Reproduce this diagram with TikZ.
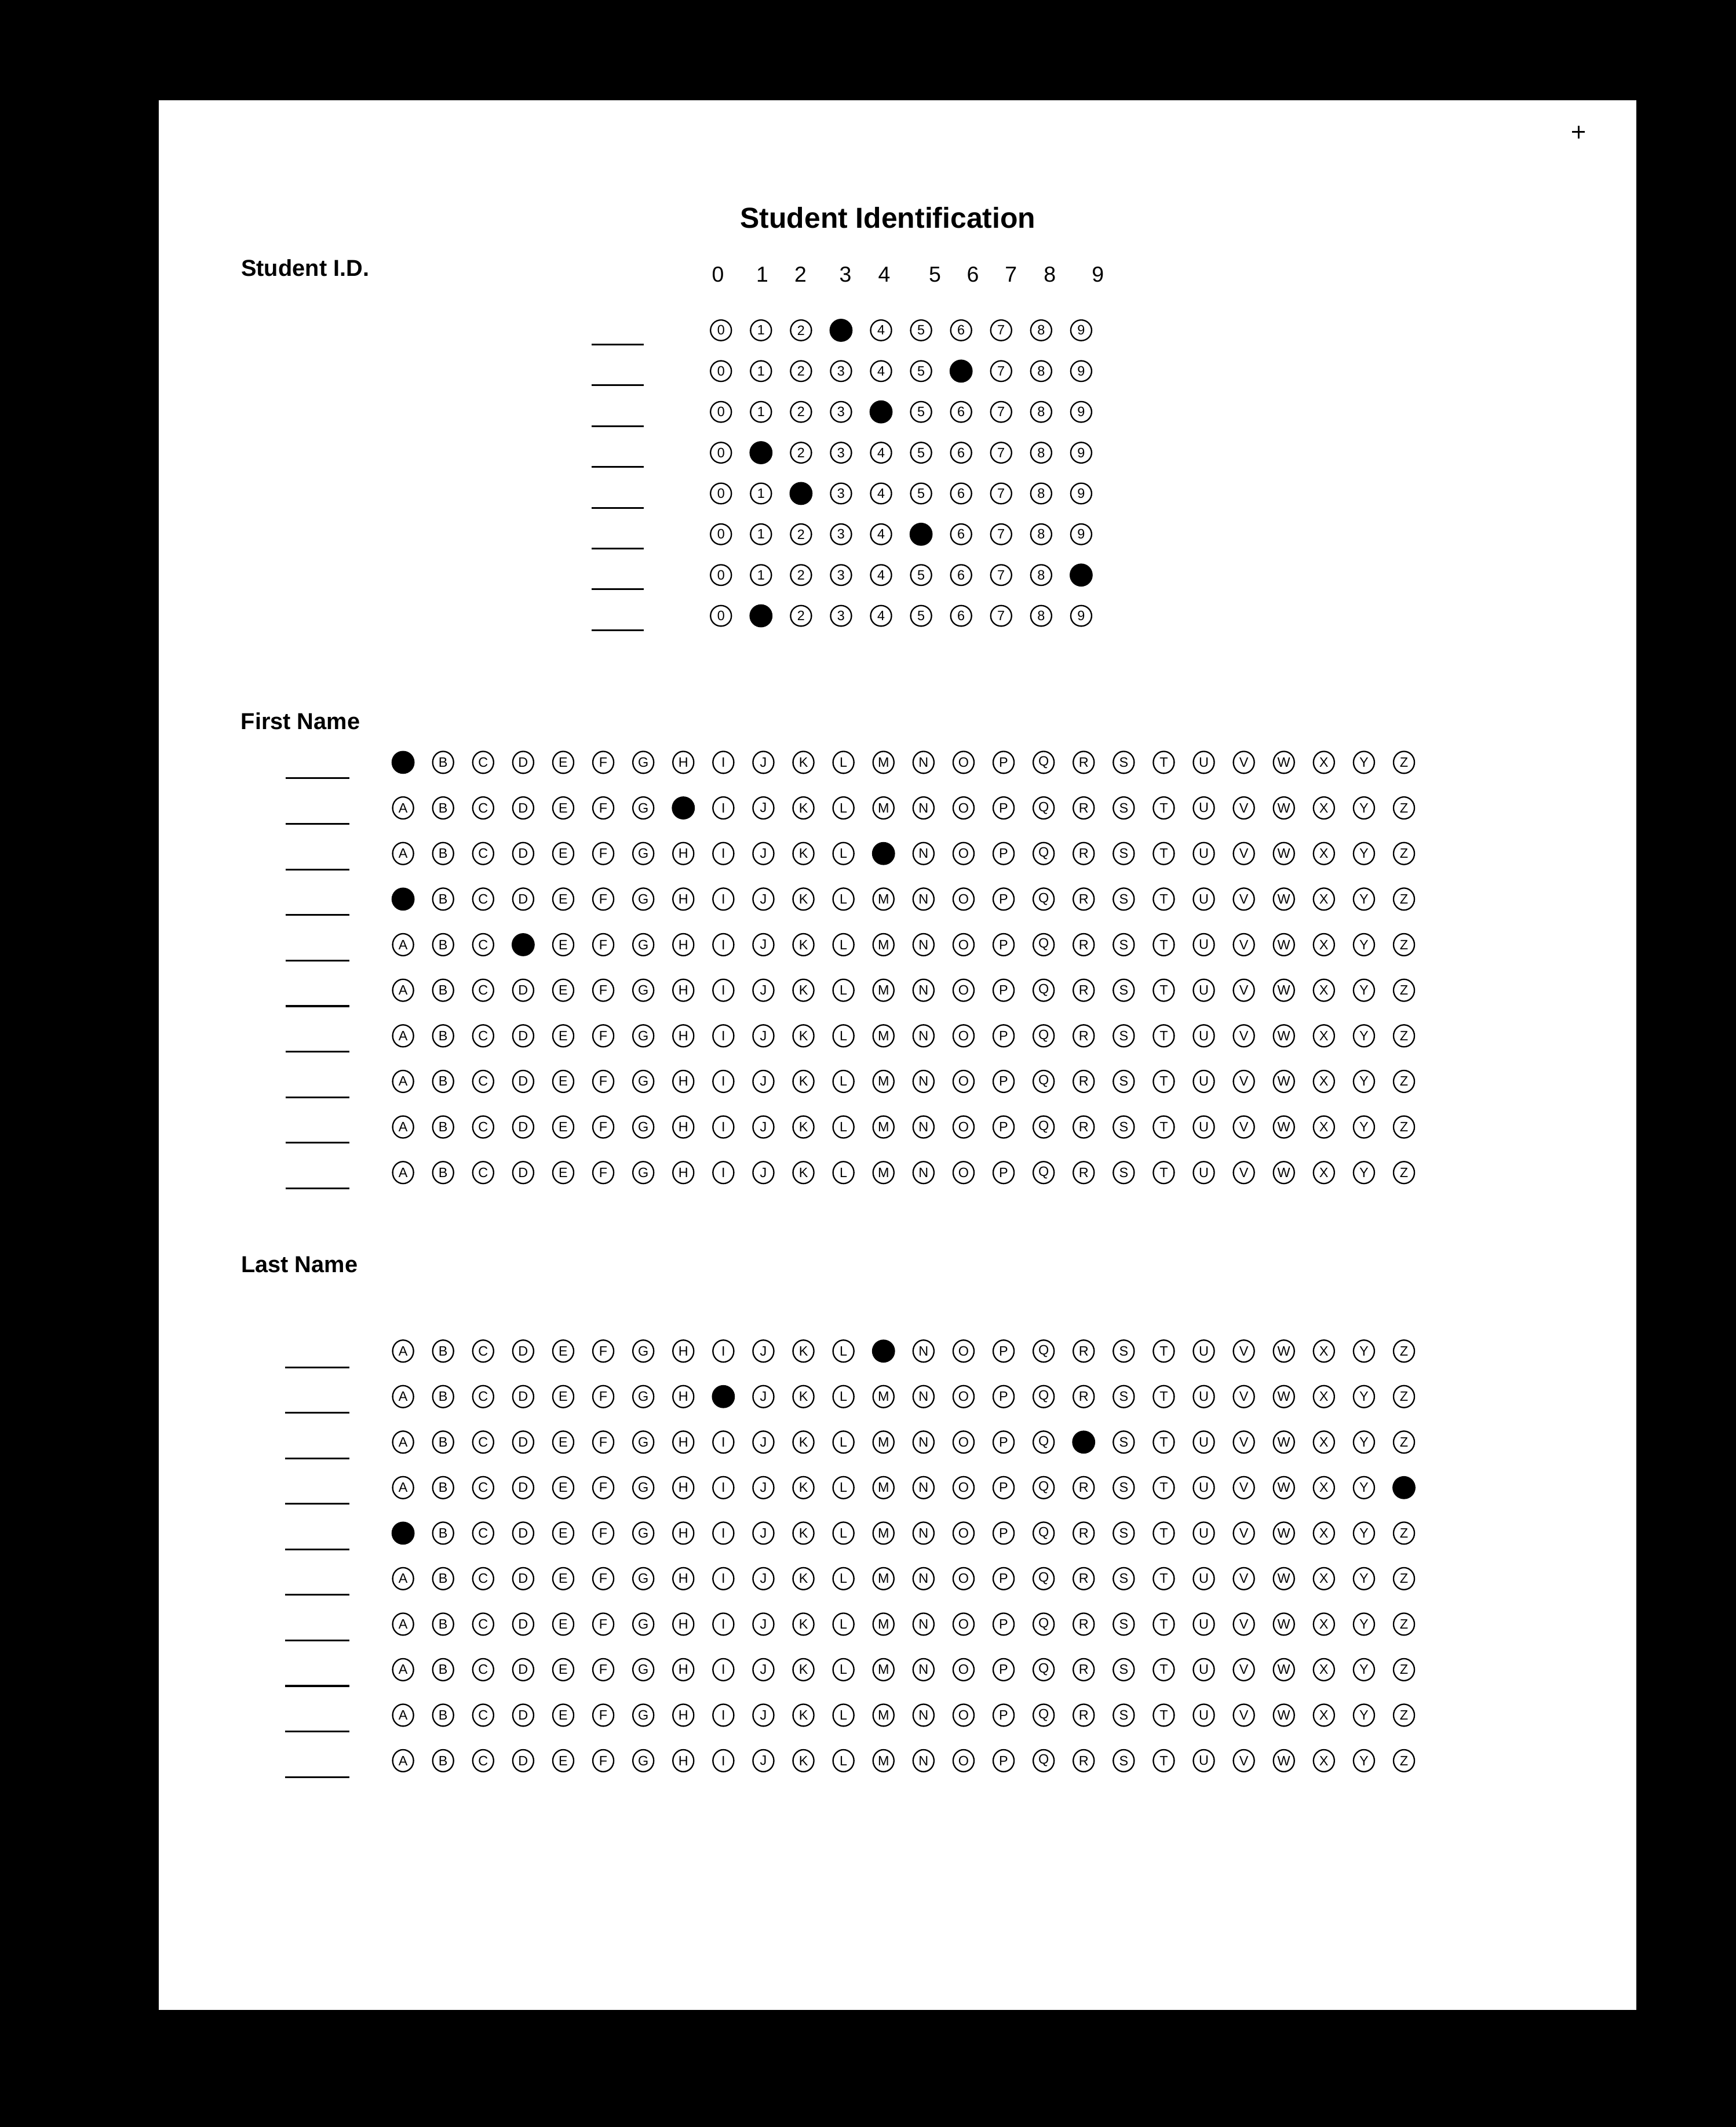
\documentclass[tikz,border=0pt]{standalone}
\usepackage{fontspec}
\setmainfont{Liberation Sans}
\usetikzlibrary{shapes.geometric}

\begin{document}
\begin{tikzpicture}[x=1pt,y=-1pt,
    bubble/.style={ellipse,draw,line width=1pt,inner sep=0pt,minimum width=15.4pt,minimum height=16.2pt,font=\fontsize{10}{10}\selectfont},
    id bubble/.style={bubble,minimum height=15.2pt},
    marked/.style={circle,fill=black,inner sep=0pt,minimum size=17pt},
    heading/.style={anchor=base west,inner sep=0pt,font=\fontsize{17}{18}\selectfont\bfseries},
    blank/.style={line width=1.3pt}]
  \useasboundingbox (0,0) rectangle (1280,1568);
  \fill[black] (0,0) rectangle (1280,1568);
  \fill[white] (117,74) rectangle (1206.5,1481.5);
  \draw[line width=1.3pt] (1159.3,97.4) -- (1168.7,97.4) (1164,92.7) -- (1164,102.1);

  \node[anchor=base,font=\fontsize{21.3}{24}\selectfont\bfseries] (title) at (654.7,168.2) {Student Identification};
  \node[heading] (idlabel) at (177.6,203.4) {Student I.D.};
  \node[heading] (firstlabel) at (177.4,537.5) {First Name};
  \node[heading] (lastlabel) at (177.6,937.9) {Last Name};

  % digit heads
  \foreach \k/\x in {0/529.4,1/562.1,2/590.2,3/623.4,4/652.0,5/689.4,6/717.4,7/745.5,8/774.1,9/809.5}
    \node[anchor=base,font=\fontsize{16}{18}\selectfont] (head-\k) at (\x,207.9) {\k};

  % student id
  \foreach \r/\p in {1/3,2/6,3/4,4/1,5/2,6/5,7/9,8/1}{
    \draw[blank] (436.3,{243.5+30.07*(\r-1)+10.5}) -- (474.6,{243.5+30.07*(\r-1)+10.5});
    \foreach \k in {0,...,9}{
      \ifnum\k=\p
        \node[marked] (id-\r-\k) at ({531.6+29.51*\k},{243.5+30.07*(\r-1)}) {};
      \else
        \node[id bubble] (id-\r-\k) at ({531.6+29.51*\k},{243.5+30.07*(\r-1)}) {\k};
      \fi
    }
  }

  % first name
  \foreach \r/\p in {1/1,2/8,3/13,4/1,5/4,6/0,7/0,8/0,9/0,10/0}{
    \draw[blank] (210.5,{562+33.6*(\r-1)+11.7}) -- (257.7,{562+33.6*(\r-1)+11.7});
    \foreach \c [count=\i] in {A,...,Z}{
      \ifnum\i=\p
        \node[marked] (first-\r-\c) at ({297.2+29.52*(\i-1)},{562+33.6*(\r-1)}) {};
      \else
        \node[bubble] (first-\r-\c) at ({297.2+29.52*(\i-1)},{562+33.6*(\r-1)}) {\c};
      \fi
    }
  }

  % last name
  \foreach \r/\p in {1/13,2/9,3/18,4/26,5/1,6/0,7/0,8/0,9/0,10/0}{
    \draw[blank] (210.3,{996+33.55*(\r-1)+12}) -- (257.8,{996+33.55*(\r-1)+12});
    \foreach \c [count=\i] in {A,...,Z}{
      \ifnum\i=\p
        \node[marked] (last-\r-\c) at ({297.2+29.52*(\i-1)},{996+33.55*(\r-1)}) {};
      \else
        \node[bubble] (last-\r-\c) at ({297.2+29.52*(\i-1)},{996+33.55*(\r-1)}) {\c};
      \fi
    }
  }
\end{tikzpicture}
\end{document}
